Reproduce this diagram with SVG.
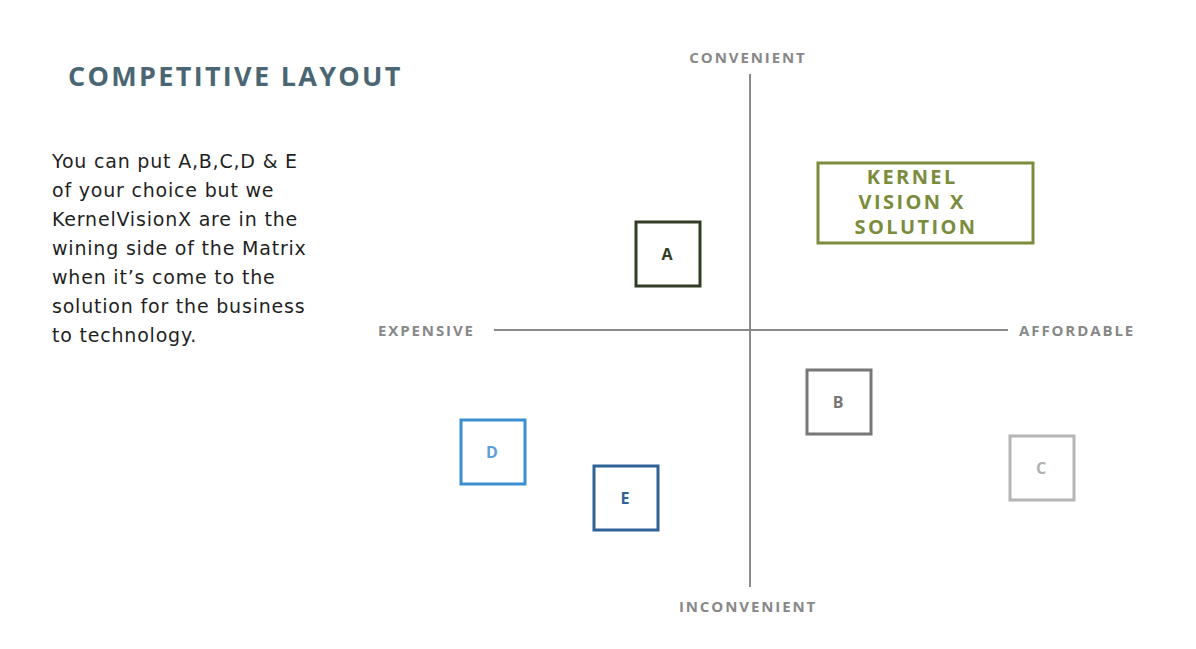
<svg xmlns="http://www.w3.org/2000/svg" width="1196" height="649" viewBox="0 0 1196 649">
<style>
.ax{stroke:#8a8a8a;stroke-width:2;fill:none}
.axl{font-family:"Open Sans","Liberation Sans",sans-serif;font-weight:700;font-size:15px;letter-spacing:1.9px;fill:#888}
.box{fill:#fff;stroke-width:3}
.bl{font-family:"Open Sans","Liberation Sans",sans-serif;font-weight:700;font-size:16px;text-anchor:middle}
.body{font-family:"DejaVu Sans","Noto Sans","Liberation Sans",sans-serif;font-size:19px;letter-spacing:0.8px;fill:#1f1f1f}
</style>
<rect width="1196" height="649" fill="#fff"/>
<text x="68" y="86" font-family="'Open Sans','Liberation Sans',sans-serif" font-weight="700" font-size="27" letter-spacing="2.3" fill="#4b6673">COMPETITIVE LAYOUT</text>
<text class="body">
<tspan x="52" y="168">You can put A,B,C,D &amp; E</tspan>
<tspan x="52" y="197">of your choice but we</tspan>
<tspan x="52" y="226">KernelVisionX are in the</tspan>
<tspan x="52" y="255">wining side of the Matrix</tspan>
<tspan x="52" y="284">when it’s come to the</tspan>
<tspan x="52" y="313">solution for the business</tspan>
<tspan x="52" y="342">to technology.</tspan>
</text>
<g id="axes">
<line class="ax" x1="750" y1="74" x2="750" y2="587"/>
<line class="ax" x1="494" y1="330" x2="1008" y2="330"/>
<text class="axl" x="748" y="63" text-anchor="middle">CONVENIENT</text>
<text class="axl" x="748" y="612" text-anchor="middle">INCONVENIENT</text>
<text class="axl" x="378" y="336">EXPENSIVE</text>
<text class="axl" x="1019" y="336">AFFORDABLE</text>
</g>
<g id="kernel">
<rect class="box" x="818" y="163" width="215" height="80" stroke="#7b8c3c"/>
<text font-family="'Open Sans','Liberation Sans',sans-serif" font-weight="700" font-size="20" letter-spacing="2.4" fill="#7b8c3c" text-anchor="middle">
<tspan x="916" y="184">KERNEL</tspan>
<tspan x="916" y="209">VISION X</tspan>
<tspan x="916" y="234">SOLUTION</tspan>
</text>
</g>
<g id="A">
<rect class="box" x="636" y="222" width="64" height="64" stroke="#333d26"/>
<text class="bl" x="667" y="260" fill="#333d26">A</text>
</g>
<g id="B">
<rect class="box" x="807" y="370" width="64" height="64" stroke="#777"/>
<text class="bl" x="838" y="408" fill="#777">B</text>
</g>
<g id="C">
<rect class="box" x="1010" y="436" width="64" height="64" stroke="#b5b5b5"/>
<text class="bl" x="1041" y="474" fill="#b0b0b0">C</text>
</g>
<g id="D">
<rect class="box" x="461" y="420" width="64" height="64" stroke="#3b8fd0"/>
<text class="bl" x="492" y="458" fill="#5c9ed6">D</text>
</g>
<g id="E">
<rect class="box" x="594" y="466" width="64" height="64" stroke="#2f6296"/>
<text class="bl" x="625" y="504" fill="#2f6296">E</text>
</g>
</svg>
